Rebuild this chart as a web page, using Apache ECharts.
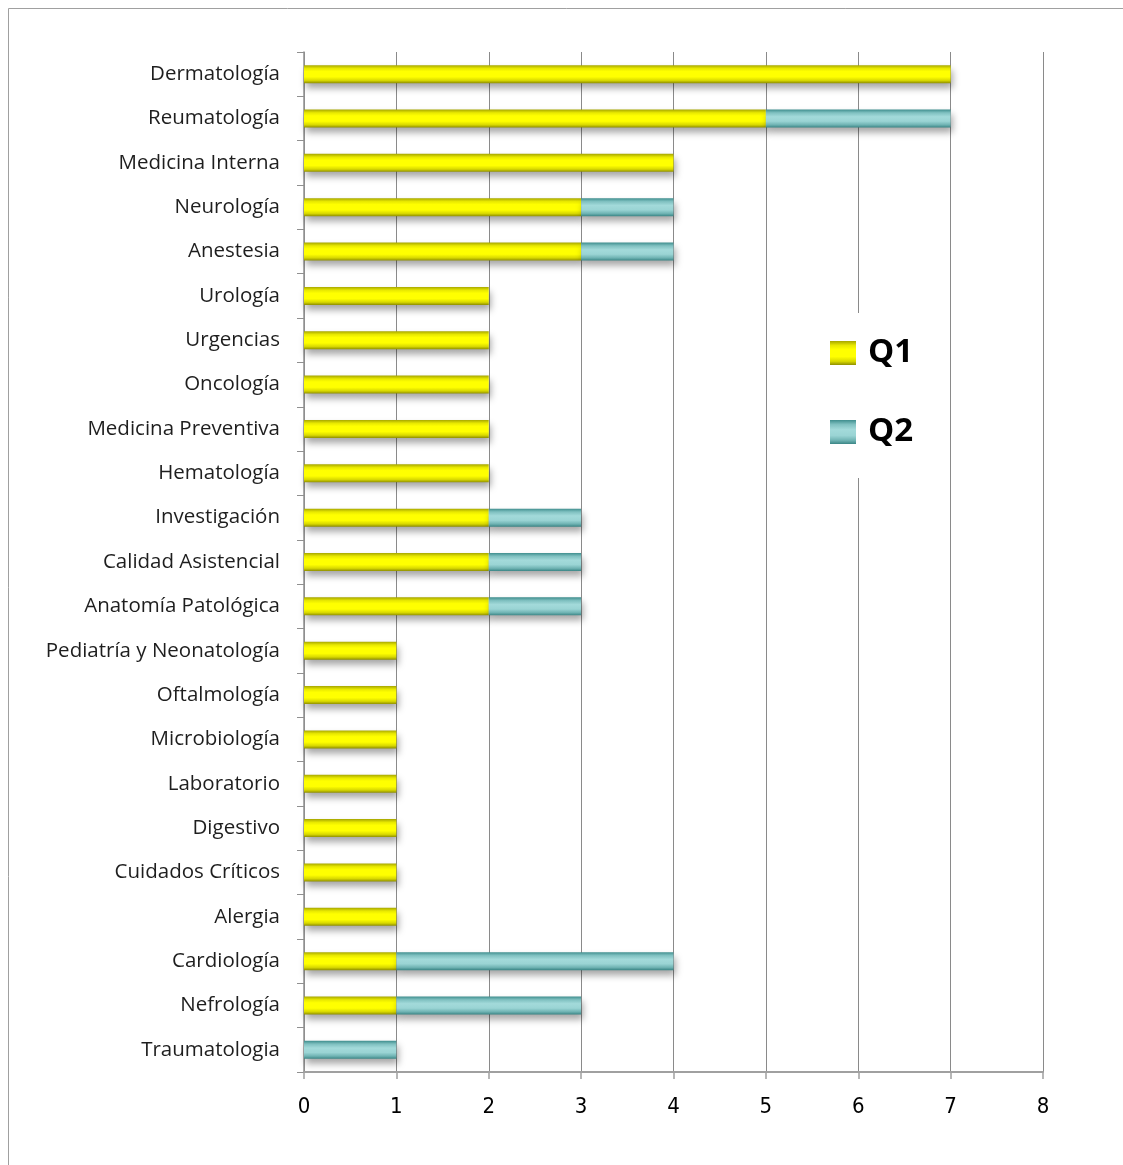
<!DOCTYPE html>
<html><head><meta charset="utf-8">
<script src="https://cdn.jsdelivr.net/npm/echarts@6/dist/echarts.min.js"></script>
<style>html,body{margin:0;padding:0;background:#fff}#c{width:1123px;height:1165px}</style>
</head><body><div id="c"></div>
<script>
var categories = ["Dermatología","Reumatología","Medicina Interna","Neurología","Anestesia","Urología","Urgencias","Oncología","Medicina Preventiva","Hematología","Investigación","Calidad Asistencial","Anatomía Patológica","Pediatría y Neonatología","Oftalmología","Microbiología","Laboratorio","Digestivo","Cuidados Críticos","Alergia","Cardiología","Nefrología","Traumatologia"];
var q1 = [7,5,4,3,3,2,2,2,2,2,2,2,2,1,1,1,1,1,1,1,1,1,0];
var q2 = [0,2,0,1,1,0,0,0,0,0,1,1,1,0,0,0,0,0,0,0,3,2,1];
var xTicks = [0,1,2,3,4,5,6,7,8];

var yellow = new echarts.graphic.LinearGradient(0,0,0,1,[
  {offset:0,color:'#a6a600'},{offset:0.18,color:'#e8e800'},{offset:0.35,color:'#ffff00'},
  {offset:0.65,color:'#ffff00'},{offset:0.85,color:'#d8d800'},{offset:1,color:'#8f8f00'}]);
var teal = new echarts.graphic.LinearGradient(0,0,0,1,[
  {offset:0,color:'#3f8e8e'},{offset:0.18,color:'#7fc0c0'},{offset:0.4,color:'#a3dada'},
  {offset:0.65,color:'#9ad4d4'},{offset:0.85,color:'#6fb3b3'},{offset:1,color:'#3a8585'}]);

var chart = echarts.init(document.getElementById('c'), null, {renderer:'canvas'});
chart.setOption({
  animation:false,
  backgroundColor:'#fff',
  graphic:[{type:'rect',shape:{x:8.5,y:8.5,width:1300,height:1300},style:{fill:'none',stroke:'#a0a0a0',lineWidth:1},z:-10}],
  grid:{left:304,right:80,top:52,bottom:93},
  legend:{
    orient:'vertical', left:820, top:313,
    backgroundColor:'#fff',
    padding:[20,10,26,10],
    itemGap:39, itemWidth:26, itemHeight:24,
    textStyle:{fontSize:33,fontWeight:'bold',color:'#000',fontFamily:'Open Sans, Noto Sans, sans-serif',lineHeight:40,padding:[0,0,0,7]},
    data:[{name:'Q1',icon:'rect',itemStyle:{color:yellow}},{name:'Q2',icon:'rect',itemStyle:{color:teal}}],
    z:10
  },
  xAxis:{
    type:'value', min:0, max:8, interval:1,
    axisLine:{show:true,lineStyle:{color:'#a0a0a0',width:2}},
    axisTick:{show:true,length:7,lineStyle:{color:'#a0a0a0',width:1.5}},
    splitLine:{show:true,lineStyle:{color:'#8a8a8a',width:1}},
    axisLabel:{margin:24,fontSize:22,color:'#000',fontFamily:'Liberation Sans Narrow, DejaVu Sans Condensed, sans-serif',
      formatter:function(v){return String(xTicks[v]);}}
  },
  yAxis:{
    type:'category', data:categories, inverse:true,
    axisLine:{show:true,lineStyle:{color:'#909090',width:1.5}},
    axisTick:{show:true,length:7,lineStyle:{color:'#909090'}},
    axisLabel:{margin:24,fontSize:20.5,color:'#1e1e1e',fontFamily:'Open Sans, Noto Sans, sans-serif'}
  },
  series:[
    {name:'Q1',type:'bar',stack:'s',data:q1,barWidth:18,
     itemStyle:{color:yellow,shadowColor:'rgba(0,0,0,0.35)',shadowBlur:7,shadowOffsetX:2,shadowOffsetY:5}},
    {name:'Q2',type:'bar',stack:'s',data:q2,barWidth:18,
     itemStyle:{color:teal,shadowColor:'rgba(0,0,0,0.35)',shadowBlur:7,shadowOffsetX:2,shadowOffsetY:5}}
  ]
});
</script></body></html>
